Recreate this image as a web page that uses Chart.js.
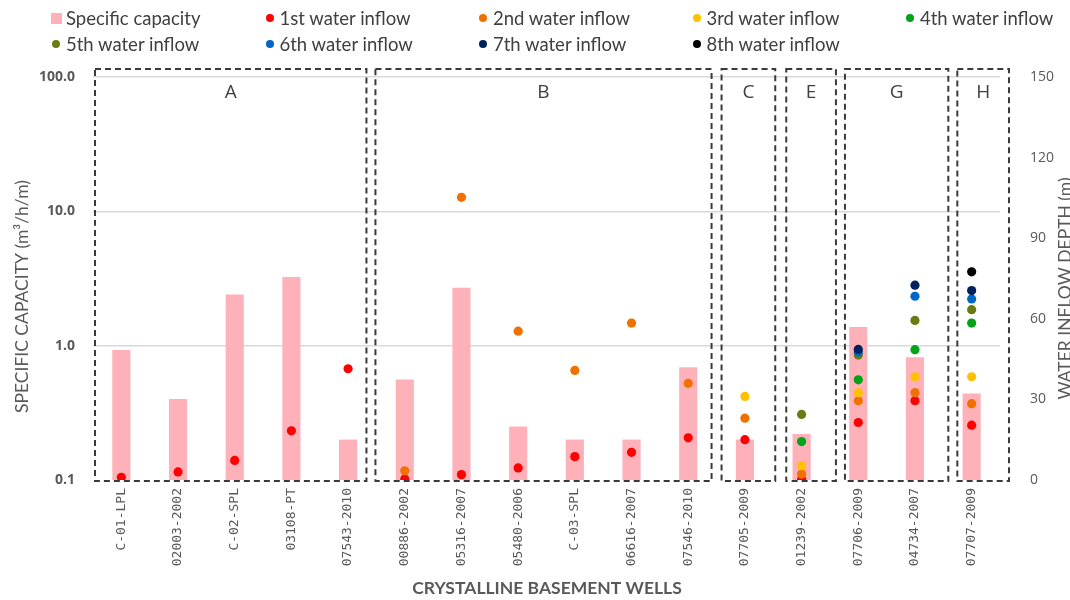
<!DOCTYPE html>
<html>
<head>
<meta charset="utf-8">
<script src="https://cdn.jsdelivr.net/npm/chart.js@4.4.1/dist/chart.umd.min.js"></script>
<style>
  html, body { margin: 0; padding: 0; background: #fff; }
  #wrap { position: relative; width: 1070px; height: 600px; }
  #chart { position: absolute; left: 0; top: 0; }
  #legend { position: absolute; left: 46px; top: 5px; display: grid;
            grid-template-columns: repeat(5, 213.5px); grid-auto-rows: 26px;
            font-family: 'Lato', sans-serif; font-size: 18.5px; color: #404040; }
  .item { display: flex; align-items: center; white-space: nowrap; }
  .sq { width: 11px; height: 11px; margin-left: 5px; margin-right: 4px; }
  .dot { width: 8px; height: 8px; border-radius: 50%; margin-left: 6px; margin-right: 6px; }
</style>
</head>
<body>
<div id="wrap">
  <canvas id="chart" width="1070" height="600"></canvas>
  <div id="legend"></div>
</div>
<script>
// ---------- data ----------
const wells = ["C-01-LPL","02003-2002","C-02-SPL","03108-PT","07543-2010",
               "00886-2002","05316-2007","05480-2006","C-03-SPL","06616-2007","07546-2010",
               "07705-2009","01239-2002","07706-2009","04734-2007","07707-2009"];
const specificCapacity = [0.93,0.40,2.4,3.25,0.20, 0.56,2.7,0.25,0.20,0.20,0.69, 0.20,0.22,1.38,0.82,0.44];
const inflow1 = [1.0,3.0,7.3,18.3,41.4, 0.4,2.0,4.5,8.7,10.3,15.7, 15.0,0.3,21.4,29.5,20.4];
const inflow2 = [null,null,null,null,null, 3.4,105.2,55.4,40.8,58.4,36.0, 23.0,2.2,29.5,32.5,28.4];
const inflow3 = [null,null,null,null,null, null,null,null,null,null,null, 31.1,5.3,32.5,38.4,38.4];
const inflow4 = [null,null,null,null,null, null,null,null,null,null,null, null,14.3,37.3,48.5,58.4];
const inflow5 = [null,null,null,null,null, null,null,null,null,null,null, null,24.4,46.5,59.4,63.4];
const inflow6 = [null,null,null,null,null, null,null,null,null,null,null, null,null,47.6,68.4,67.4];
const inflow7 = [null,null,null,null,null, null,null,null,null,null,null, null,null,48.6,72.5,70.5];
const inflow8 = [null,null,null,null,null, null,null,null,null,null,null, null,null,null,null,77.5];
const inflowNames = ["1st water inflow","2nd water inflow","3rd water inflow","4th water inflow",
                     "5th water inflow","6th water inflow","7th water inflow","8th water inflow"];
const capacityTicks = [0.1, 1, 10, 100];
const depthTicks = [0, 30, 60, 90, 120, 150];
const groupLabels = ["A","B","C","E","G","H"];
const groupFirst  = [0, 5, 11, 12, 13, 15];
const groupLast   = [4, 10, 11, 12, 14, 15];
const leftTitle = 'SPECIFIC CAPACITY (m³/h/m)';
const rightTitle = 'WATER INFLOW DEPTH (m)';
const xTitle = 'CRYSTALLINE BASEMENT WELLS';

// ---------- styles ----------
const barColor = '#FFB1B9';
const inflowColors = ['#FF0000','#F07000','#FFC000','#00A416','#6B7B14','#0066C8','#002060','#000000'];
const boxAdjust = [[2,-10],[-1,-5],[5,2],[13,6],[15,5],[14,9]];
const inflows = [inflow1,inflow2,inflow3,inflow4,inflow5,inflow6,inflow7,inflow8];

// ---------- legend (HTML) ----------
const legend = document.getElementById('legend');
const addItem = (cls, color, text) => {
  const d = document.createElement('div'); d.className = 'item';
  const m = document.createElement('span'); m.className = cls; m.style.background = color;
  const t = document.createElement('span'); t.textContent = text;
  d.appendChild(m); d.appendChild(t); legend.appendChild(d);
};
addItem('sq', barColor, 'Specific capacity');
inflowNames.forEach((n, i) => addItem('dot', inflowColors[i], n));

// ---------- plugin: group boxes + axis titles ----------
const groupPlugin = {
  id: 'groupBoxes',
  beforeDatasetsDraw(chart) {
    const x = chart.scales.x, y = chart.scales.y;
    const step = x.getPixelForValue(1) - x.getPixelForValue(0);
    const top = y.getPixelForValue(100) - 8;
    const bottom = y.getPixelForValue(0.1) + 1;
    const ctx = chart.ctx;
    ctx.save();
    ctx.strokeStyle = '#3a3a3a';
    ctx.lineWidth = 2;
    ctx.setLineDash([6, 4]);
    const edges = groupLabels.map((lab, i) => [
      x.getPixelForValue(groupFirst[i]) - step / 2 + boxAdjust[i][0],
      x.getPixelForValue(groupLast[i]) + step / 2 + boxAdjust[i][1]]);
    edges.forEach(([l, r]) => ctx.strokeRect(l, top, r - l, bottom - top));
    ctx.setLineDash([]);
    ctx.fillStyle = '#404040';
    ctx.font = '19px "Open Sans"';
    ctx.textAlign = 'center';
    ctx.textBaseline = 'middle';
    groupLabels.forEach((lab, i) => ctx.fillText(lab, (edges[i][0] + edges[i][1]) / 2, 93));
    ctx.restore();
  },
  afterDraw(chart) {
    const ctx = chart.ctx;
    const y = chart.scales.y;
    const mid = (y.top + y.bottom) / 2;
    ctx.save();
    ctx.fillStyle = '#595959';
    ctx.textAlign = 'center';
    ctx.textBaseline = 'middle';
    ctx.font = '17.5px Lato';
    ctx.save();
    ctx.translate(22, mid + 18);
    ctx.rotate(-Math.PI / 2);
    ctx.fillText(leftTitle, 0, 0);
    ctx.restore();
    ctx.save();
    ctx.translate(1065, mid + 10);
    ctx.rotate(-Math.PI / 2);
    ctx.fillText(rightTitle, 0, 0);
    ctx.restore();
    ctx.font = 'bold 17.5px Lato';
    ctx.fillText(xTitle, 547, 588);
    ctx.restore();
  }
};

// ---------- chart ----------
const datasets = [{
  type: 'bar', label: 'Specific capacity', data: specificCapacity, yAxisID: 'y',
  backgroundColor: barColor, borderWidth: 0, barPercentage: 0.32, categoryPercentage: 1, order: 10
}];
inflows.forEach((arr, i) => datasets.push({
  type: 'line', label: inflowNames[i], data: arr, yAxisID: 'y1', showLine: false,
  pointRadius: 4.6, pointHoverRadius: 4.6, pointBorderWidth: 0,
  pointBackgroundColor: inflowColors[i], borderColor: inflowColors[i], backgroundColor: inflowColors[i],
  order: 9 - i
}));

new Chart(document.getElementById('chart'), {
  data: { labels: wells, datasets },
  options: {
    responsive: false, animation: false, devicePixelRatio: 1,
    layout: { padding: { top: 77, left: 0, right: 0, bottom: 0 } },
    plugins: { legend: { display: false }, tooltip: { enabled: false } },
    scales: {
      x: {
        type: 'category', offset: true,
        grid: { display: false, drawTicks: false }, border: { display: false },
        ticks: { autoSkip: false, maxRotation: 90, minRotation: 90, padding: 8,
                 font: { family: 'DejaVu Sans Mono', size: 13 }, color: '#595959' },
        afterFit: s => { s.height = 120; }
      },
      y: {
        type: 'logarithmic', position: 'left', min: 0.1, max: 100,
        afterBuildTicks: s => { s.ticks = capacityTicks.map(v => ({ value: v })); },
        ticks: { callback: v => Number(v).toFixed(1), padding: 18, color: '#595959',
                 font: { family: 'Open Sans', size: 14, weight: 'bold' } },
        grid: { color: c => (c.tick && c.tick.value === 0.1) ? 'rgba(0,0,0,0)' : '#D9D9D9', drawTicks: false, lineWidth: 1.5 },
        border: { display: false },
        afterFit: s => { s.width = 93; }
      },
      y1: {
        type: 'linear', position: 'right', min: 0, max: 150,
        afterBuildTicks: s => { s.ticks = depthTicks.map(v => ({ value: v })); },
        ticks: { padding: 30, color: '#595959', font: { family: 'Open Sans', size: 14 } },
        grid: { drawOnChartArea: false, drawTicks: false }, border: { display: false },
        afterFit: s => { s.width = 70; }
      }
    }
  },
  plugins: [groupPlugin]
});
</script>
</body>
</html>
